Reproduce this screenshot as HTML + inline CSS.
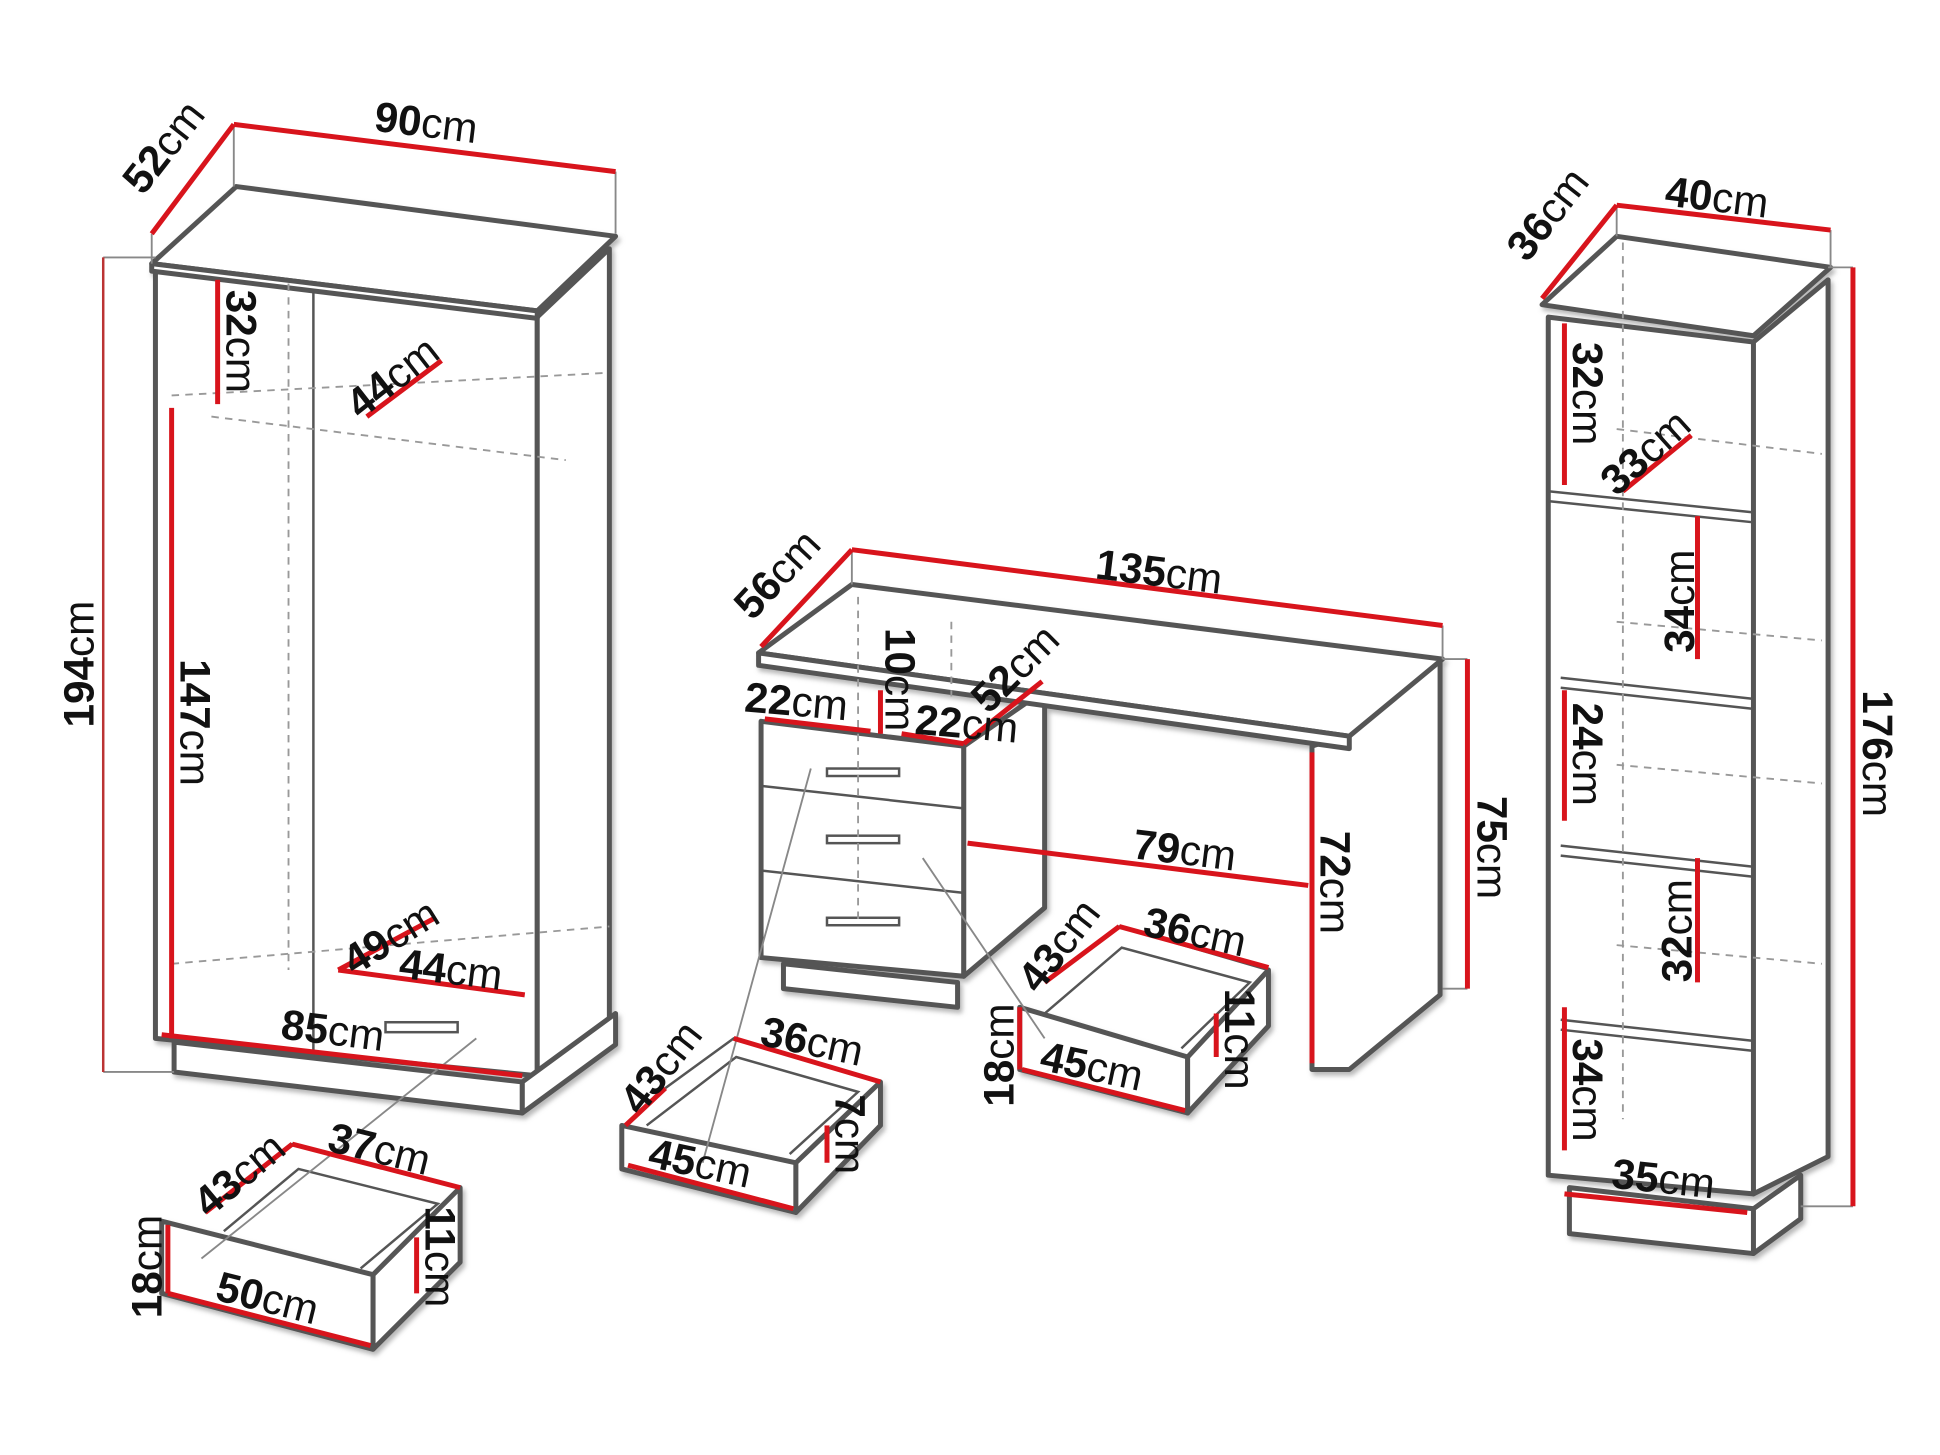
<!DOCTYPE html>
<html><head><meta charset="utf-8"><style>
html,body{margin:0;padding:0;background:#fff;}
svg{display:block}
text{font-family:"Liberation Sans",sans-serif;font-size:34px;fill:#111}
.b{font-weight:bold}
</style></head><body>
<svg width="1940" height="1455" viewBox="0 0 1560 1170" preserveAspectRatio="none" xmlns="http://www.w3.org/2000/svg">
<defs><filter id="sh"><feDropShadow dx="2" dy="3" stdDeviation="2" flood-color="#888" flood-opacity="0.6"/></filter></defs>
<g fill="#fff" stroke="#555" stroke-width="4" stroke-linejoin="round" filter="url(#sh)">
<polygon points="125,215 432,255 432,865 125,835"/>
<polygon points="432,255 490,200 490,820 432,865"/>
<polygon points="140,838 420,870 420,895 140,862"/>
<polygon points="420,870 495,815 495,840 420,895"/>
<polygon points="122,212 190,150 495,190 432,250"/>
<polygon points="122,212 432,250 432,256 122,218"/>
<polygon points="1085,590 1158,530 1158,800 1085,860 1055,860 1055,600"/>
<polygon points="612,580 775,600 775,785 612,770"/>
<polygon points="775,600 840,555 840,730 775,785"/>
<polygon points="630,775 770,790 770,810 630,795"/>
<polygon points="610,525 685,470 1160,530 1085,592"/>
<polygon points="610,525 1085,592 1085,602 610,535"/>
<polygon points="1245,255 1410,275 1410,960 1245,945"/>
<polygon points="1410,275 1470,225 1470,930 1410,960"/>
<polygon points="1262,955 1410,972 1410,1008 1262,992"/>
<polygon points="1410,972 1448,945 1448,980 1410,1008"/>
<polygon points="1240,245 1300,190 1472,215 1410,270"/>
<polygon points="130,982 300,1025 300,1085 130,1040"/>
<polygon points="300,1025 370,955 370,1015 300,1085"/>
<polygon points="500,905 640,935 640,975 500,940"/>
<polygon points="640,935 708,870 708,905 640,975"/>
<polygon points="820,810 955,850 955,895 820,860"/>
<polygon points="955,850 1020,780 1020,825 955,895"/>
</g>
<g fill="none" stroke="#555" stroke-width="2">
<polyline points="165,975 235,920 370,955"/>
<polyline points="535,875 590,835 708,870"/>
<polyline points="840,790 900,745 1020,780"/>
<polyline points="180,990 240,940 352,968 290,1020"/>
<polyline points="520,905 592,850 690,878 635,928"/>
<polyline points="840,815 902,762 1005,790 950,843"/>
<line x1="1245" y1="395" x2="1410" y2="412"/><line x1="1245" y1="403" x2="1410" y2="420"/>
<line x1="1255" y1="545" x2="1410" y2="562"/><line x1="1255" y1="553" x2="1410" y2="570"/>
<line x1="1255" y1="680" x2="1410" y2="697"/><line x1="1255" y1="688" x2="1410" y2="705"/>
<line x1="1255" y1="820" x2="1410" y2="837"/><line x1="1255" y1="828" x2="1410" y2="845"/>
<line x1="612" y1="632" x2="775" y2="650"/><line x1="612" y1="700" x2="775" y2="718"/>
<line x1="252" y1="235" x2="252" y2="850"/>
<rect x="665" y="618" width="58" height="6"/><rect x="665" y="672" width="58" height="6"/><rect x="665" y="738" width="58" height="6"/>
<rect x="310" y="822" width="58" height="8"/>
</g>
<g fill="none" stroke="#999" stroke-width="1.5" stroke-dasharray="6,5">
<line x1="232" y1="228" x2="232" y2="780"/><line x1="138" y1="318" x2="485" y2="300"/>
<line x1="170" y1="335" x2="455" y2="370"/><line x1="138" y1="775" x2="490" y2="745"/>
<line x1="1305" y1="195" x2="1305" y2="900"/>
<line x1="1300" y1="345" x2="1465" y2="365"/><line x1="1300" y1="500" x2="1465" y2="515"/>
<line x1="1300" y1="615" x2="1465" y2="630"/><line x1="1300" y1="760" x2="1465" y2="775"/>
<line x1="690" y1="480" x2="690" y2="740"/><line x1="765" y1="500" x2="765" y2="560"/>
</g>
<g stroke="#888" stroke-width="1.5">
<line x1="83" y1="207" x2="125" y2="207"/><line x1="83" y1="862" x2="140" y2="862"/>
<line x1="122" y1="188" x2="122" y2="212"/><line x1="188" y1="100" x2="188" y2="150"/><line x1="495" y1="138" x2="495" y2="188"/>
<line x1="685" y1="442" x2="685" y2="470"/><line x1="1160" y1="503" x2="1160" y2="530"/>
<line x1="1160" y1="530" x2="1180" y2="530"/><line x1="1160" y1="795" x2="1180" y2="795"/>
<line x1="1300" y1="165" x2="1300" y2="190"/><line x1="1472" y1="185" x2="1472" y2="215"/>
<line x1="1470" y1="215" x2="1490" y2="215"/><line x1="1448" y1="970" x2="1490" y2="970"/>
<line x1="383" y1="835" x2="162" y2="1012"/><line x1="652" y1="618" x2="565" y2="935"/><line x1="742" y1="690" x2="840" y2="835"/>
</g>
<g stroke="#d8141c" stroke-width="4" fill="none">
<line x1="83" y1="207" x2="83" y2="862" stroke="#b33" stroke-width="2"/>
<line x1="122" y1="188" x2="188" y2="100"/><line x1="188" y1="100" x2="495" y2="138"/>
<line x1="138" y1="328" x2="138" y2="835"/><line x1="175" y1="225" x2="175" y2="325"/>
<line x1="295" y1="335" x2="355" y2="290"/><line x1="272" y1="780" x2="350" y2="738"/>
<line x1="272" y1="780" x2="422" y2="800"/><line x1="130" y1="832" x2="420" y2="865"/>
<line x1="612" y1="520" x2="685" y2="442"/><line x1="685" y1="442" x2="1160" y2="503"/>
<line x1="1180" y1="530" x2="1180" y2="795"/><line x1="1055" y1="605" x2="1055" y2="855"/>
<line x1="778" y1="678" x2="1052" y2="712"/><line x1="615" y1="578" x2="700" y2="588"/>
<line x1="725" y1="590" x2="775" y2="598"/><line x1="775" y1="598" x2="838" y2="548"/>
<line x1="708" y1="555" x2="708" y2="590"/>
<line x1="1258" y1="260" x2="1258" y2="390"/><line x1="1305" y1="395" x2="1360" y2="350"/>
<line x1="1365" y1="415" x2="1365" y2="530"/><line x1="1258" y1="555" x2="1258" y2="660"/>
<line x1="1365" y1="690" x2="1365" y2="790"/><line x1="1258" y1="810" x2="1258" y2="925"/>
<line x1="1258" y1="960" x2="1405" y2="975"/><line x1="1240" y1="240" x2="1300" y2="165"/>
<line x1="1300" y1="165" x2="1472" y2="185"/><line x1="1490" y1="215" x2="1490" y2="970"/>
<line x1="135" y1="985" x2="135" y2="1040"/><line x1="135" y1="1040" x2="298" y2="1082"/>
<line x1="165" y1="975" x2="235" y2="920"/><line x1="235" y1="920" x2="370" y2="955"/>
<line x1="335" y1="995" x2="335" y2="1040"/>
<line x1="503" y1="905" x2="535" y2="875"/><line x1="590" y1="835" x2="708" y2="870"/>
<line x1="505" y1="937" x2="638" y2="972"/><line x1="665" y1="905" x2="665" y2="935"/>
<line x1="820" y1="810" x2="820" y2="860"/><line x1="822" y1="860" x2="953" y2="893"/>
<line x1="840" y1="790" x2="900" y2="745"/><line x1="900" y1="745" x2="1020" y2="778"/>
<line x1="978" y1="815" x2="978" y2="850"/>
</g>
<g>
<text transform="translate(115,158) rotate(-52)"><tspan class="b">52</tspan>cm</text>
<text transform="translate(300,105) rotate(7)"><tspan class="b">90</tspan>cm</text>
<text transform="translate(75,585) rotate(-90)"><tspan class="b">194</tspan>cm</text>
<text transform="translate(145,530) rotate(90)"><tspan class="b">147</tspan>cm</text>
<text transform="translate(182,233) rotate(90)"><tspan class="b">32</tspan>cm</text>
<text transform="translate(290,338) rotate(-38)"><tspan class="b">44</tspan>cm</text>
<text transform="translate(285,785) rotate(-32)"><tspan class="b">49</tspan>cm</text>
<text transform="translate(320,786) rotate(7)"><tspan class="b">44</tspan>cm</text>
<text transform="translate(225,835) rotate(7)"><tspan class="b">85</tspan>cm</text>
<text transform="translate(168,980) rotate(-40)"><tspan class="b">43</tspan>cm</text>
<text transform="translate(262,925) rotate(14)"><tspan class="b">37</tspan>cm</text>
<text transform="translate(130,1060) rotate(-90)"><tspan class="b">18</tspan>cm</text>
<text transform="translate(172,1045) rotate(14)"><tspan class="b">50</tspan>cm</text>
<text transform="translate(342,970) rotate(90)"><tspan class="b">11</tspan>cm</text>
<text transform="translate(605,500) rotate(-47)"><tspan class="b">56</tspan>cm</text>
<text transform="translate(880,465) rotate(7)"><tspan class="b">135</tspan>cm</text>
<text transform="translate(1188,640) rotate(90)"><tspan class="b">75</tspan>cm</text>
<text transform="translate(1062,668) rotate(90)"><tspan class="b">72</tspan>cm</text>
<text transform="translate(910,690) rotate(7)"><tspan class="b">79</tspan>cm</text>
<text transform="translate(598,572) rotate(5)"><tspan class="b">22</tspan>cm</text>
<text transform="translate(735,590) rotate(5)"><tspan class="b">22</tspan>cm</text>
<text transform="translate(712,505) rotate(90)"><tspan class="b">10</tspan>cm</text>
<text transform="translate(795,575) rotate(-45)"><tspan class="b">52</tspan>cm</text>
<text transform="translate(515,898) rotate(-52)"><tspan class="b">43</tspan>cm</text>
<text transform="translate(610,840) rotate(12)"><tspan class="b">36</tspan>cm</text>
<text transform="translate(520,938) rotate(12)"><tspan class="b">45</tspan>cm</text>
<text transform="translate(672,880) rotate(90)"><tspan class="b">7</tspan>cm</text>
<text transform="translate(835,800) rotate(-52)"><tspan class="b">43</tspan>cm</text>
<text transform="translate(918,752) rotate(12)"><tspan class="b">36</tspan>cm</text>
<text transform="translate(815,890) rotate(-90)"><tspan class="b">18</tspan>cm</text>
<text transform="translate(835,860) rotate(12)"><tspan class="b">45</tspan>cm</text>
<text transform="translate(985,795) rotate(90)"><tspan class="b">11</tspan>cm</text>
<text transform="translate(1228,212) rotate(-52)"><tspan class="b">36</tspan>cm</text>
<text transform="translate(1338,165) rotate(7)"><tspan class="b">40</tspan>cm</text>
<text transform="translate(1498,555) rotate(90)"><tspan class="b">176</tspan>cm</text>
<text transform="translate(1265,275) rotate(90)"><tspan class="b">32</tspan>cm</text>
<text transform="translate(1300,400) rotate(-42)"><tspan class="b">33</tspan>cm</text>
<text transform="translate(1362,525) rotate(-90)"><tspan class="b">34</tspan>cm</text>
<text transform="translate(1265,565) rotate(90)"><tspan class="b">24</tspan>cm</text>
<text transform="translate(1360,790) rotate(-90)"><tspan class="b">32</tspan>cm</text>
<text transform="translate(1265,835) rotate(90)"><tspan class="b">34</tspan>cm</text>
<text transform="translate(1295,955) rotate(6)"><tspan class="b">35</tspan>cm</text>
</g>
</svg>
</body></html>
